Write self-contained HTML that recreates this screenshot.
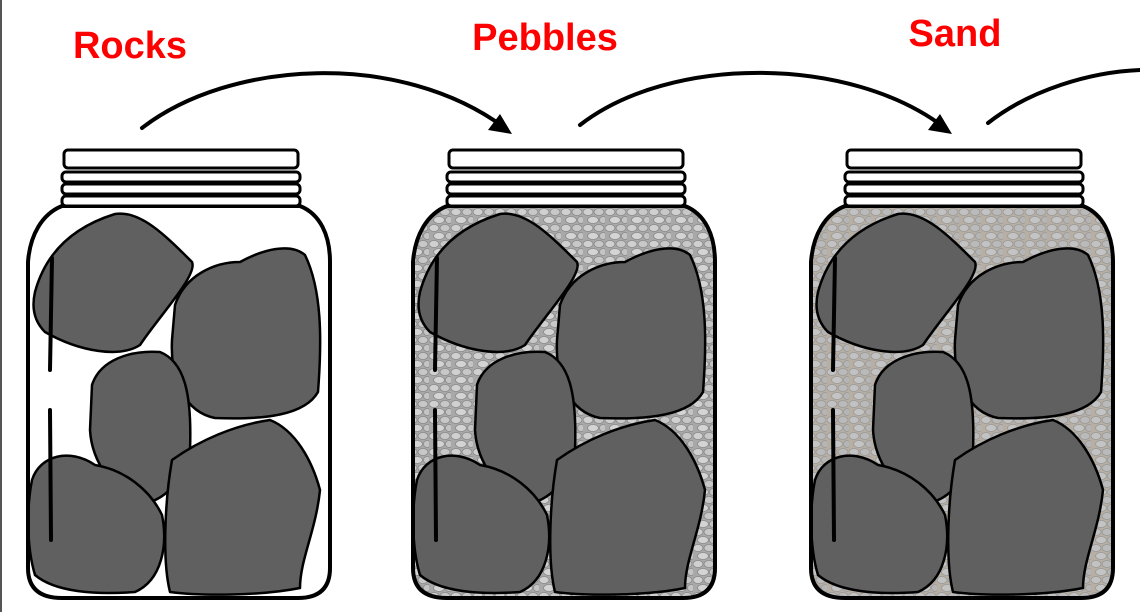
<!DOCTYPE html>
<html><head><meta charset="utf-8"><style>
html,body{margin:0;padding:0;background:#fff;}
svg{display:block;}
.lbl{font-family:"Liberation Sans",sans-serif;font-weight:bold;font-size:38px;fill:#ff0000;stroke:#fff;stroke-width:6px;paint-order:stroke;}
</style></head><body>
<svg width="1140" height="612" viewBox="0 0 1140 612">
<defs>
  <pattern id="peb" width="22" height="16" patternUnits="userSpaceOnUse">
    <rect width="22" height="16" fill="#a8a8a8"/>
    <ellipse cx="5" cy="4" rx="5" ry="3.5" fill="#d0d0d0" stroke="#8a8a8a" stroke-width="0.8"/>
    <ellipse cx="16" cy="4" rx="5" ry="3.5" fill="#c8c8c8" stroke="#8a8a8a" stroke-width="0.8"/>
    <ellipse cx="10" cy="12" rx="5.5" ry="3.5" fill="#d4d4d4" stroke="#8a8a8a" stroke-width="0.8"/>
    <ellipse cx="20" cy="12" rx="3.5" ry="3.5" fill="#c4c4c4" stroke="#8a8a8a" stroke-width="0.8"/>
  </pattern>
  <pattern id="sand" width="22" height="16" patternUnits="userSpaceOnUse">
    <rect width="22" height="16" fill="#b7afa3"/>
    <ellipse cx="5" cy="4" rx="5" ry="3.5" fill="#c2c2c2" stroke="#999" stroke-width="0.8"/>
    <ellipse cx="16" cy="4" rx="5" ry="3.5" fill="#bababa" stroke="#999" stroke-width="0.8"/>
    <ellipse cx="10" cy="12" rx="5.5" ry="3.5" fill="#c4c4c4" stroke="#999" stroke-width="0.8"/>
    <ellipse cx="20" cy="12" rx="3.5" ry="3.5" fill="#b5b5b5" stroke="#999" stroke-width="0.8"/>
  </pattern>
  <path id="body" d="M62,206 C42,214 30,235 28,262 L28,568 Q28,598 62,598 L298,598 Q330,598 330,568 L330,262 C330,235 320,214 300,206 Z"/>
  <g id="lid">
    <rect x="64" y="150" width="234" height="18" rx="4" fill="#fff" stroke="#000" stroke-width="3"/>
    <rect x="62" y="172" width="238" height="10" rx="4" fill="#fff" stroke="#000" stroke-width="3"/>
    <rect x="62" y="184" width="238" height="10" rx="4" fill="#fff" stroke="#000" stroke-width="3"/>
    <rect x="62" y="196" width="238" height="10" rx="4" fill="#fff" stroke="#000" stroke-width="3"/>
  </g>
  <g id="rocks" fill="#606060" stroke="#000" stroke-width="2.5" stroke-linejoin="round">
    <path d="M35,292 C45,255 70,228 115,214 C140,210 165,235 192,262 C198,275 160,315 140,345 C120,358 80,352 45,332 C33,320 32,305 35,292 Z"/>
    <path d="M175,305 C185,275 215,262 240,262 C262,250 290,242 305,255 C322,290 322,340 318,392 C305,415 265,420 215,418 C185,412 170,380 172,340 Z"/>
    <path d="M92,385 C100,360 130,350 160,352 C185,362 192,395 190,450 C180,485 165,500 140,505 C115,490 92,465 90,430 Z"/>
    <path d="M32,480 C40,455 70,448 95,465 C125,470 150,490 162,515 C168,545 162,580 135,592 C95,595 55,592 35,575 C26,545 27,505 32,480 Z"/>
    <path d="M172,460 C200,440 235,425 270,420 C295,430 312,460 320,490 C316,530 300,560 300,588 C260,596 200,596 170,592 C162,560 165,500 172,460 Z"/>
  </g>
  <g id="marks" stroke="#000" stroke-width="4" stroke-linecap="round" fill="none">
    <path d="M52,258 L50,370"/><path d="M50,410 L51,540"/>
  </g>
</defs>
<rect x="0" y="0" width="2" height="612" fill="#555"/>

<g>
  <use href="#body" fill="#fff"/>
  <use href="#rocks"/><use href="#marks"/>
  <use href="#body" fill="none" stroke="#000" stroke-width="4"/>
  <use href="#lid"/>
</g>
<g transform="translate(385,0)">
  <use href="#body" fill="url(#peb)"/>
  <use href="#rocks"/><use href="#marks"/>
  <use href="#body" fill="none" stroke="#000" stroke-width="4"/>
  <use href="#lid"/>
</g>
<g transform="translate(783,0)">
  <use href="#body" fill="url(#sand)"/>
  <use href="#rocks"/><use href="#marks"/>
  <use href="#body" fill="none" stroke="#000" stroke-width="4"/>
  <use href="#lid"/>
</g>

<g fill="none" stroke="#000" stroke-width="4" stroke-linecap="round">
  <path d="M142,128 C230,60 400,50 505,128"/>
  <path d="M580,125 C670,55 850,55 945,128"/>
  <path d="M988,123 C1030,90 1090,72 1140,70"/>
</g>
<polygon points="512,134 488,130 500,114" fill="#000"/>
<polygon points="952,134 928,130 940,114" fill="#000"/>

<text class="lbl" x="130" y="58" text-anchor="middle">Rocks</text>
<text class="lbl" x="545" y="50" text-anchor="middle">Pebbles</text>
<text class="lbl" x="955" y="46" text-anchor="middle">Sand</text>
</svg>
</body></html>
